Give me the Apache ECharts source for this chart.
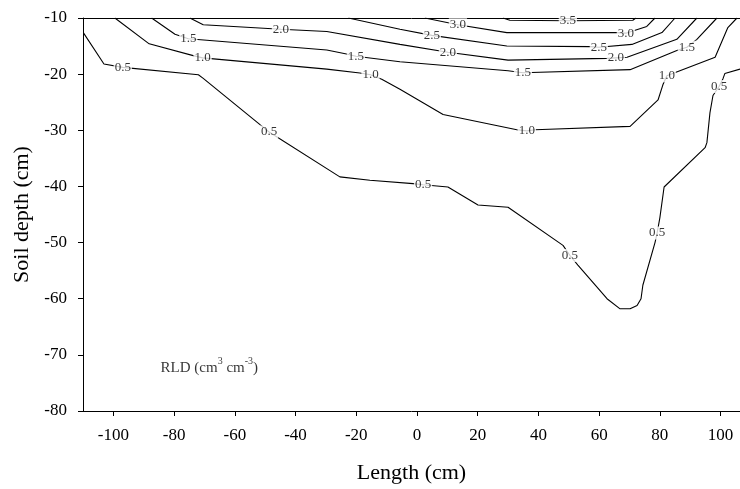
<!DOCTYPE html>
<html><head><meta charset="utf-8">
<script src="https://cdn.jsdelivr.net/npm/echarts@6/dist/echarts.min.js"></script>
<style>html,body{margin:0;padding:0;background:#fff;overflow:hidden}#c{width:740px;height:489px}</style>
</head><body><div id="c"></div>
<script>
// Contour polylines [length (cm), soil depth (cm)] per RLD level
const c05 = [[-109.9,-12.6],[-103.1,-18.2],[-96.9,-18.8],[-72.0,-20.1],[-70.5,-20.7],[-51.7,-29.0],[-48.7,-30.3],[-25.4,-38.3],[-15.5,-38.9],[-1.3,-39.5],[2.0,-39.7],[10.2,-40.1],[20.1,-43.3],[30.0,-43.7],[48.1,-50.5],[50.4,-52.3],[53.0,-54.0],[62.6,-60.0],[66.9,-61.8],[70.2,-61.8],[72.5,-61.2],[73.8,-60.0],[74.4,-57.6],[78.4,-50.0],[79.1,-48.3],[80.0,-45.6],[81.4,-40.1],[94.9,-33.1],[95.5,-32.2],[96.5,-26.9],[97.5,-23.8],[99.5,-22.2],[100.8,-20.8],[101.4,-19.9],[106.4,-19.1]];
const c10 = [[-99.5,-10],[-88.2,-14.6],[-73.7,-16.7],[-70.6,-17.1],[-29.7,-19.1],[-18.8,-19.8],[-15.3,-20.1],[-11.6,-20.9],[-5.6,-22.7],[8.6,-27.2],[32.9,-29.9],[36.2,-30.1],[38.9,-29.9],[70.2,-29.3],[79.4,-24.6],[81.0,-21.9],[82.3,-20.3],[98.2,-17.0],[102.4,-11.7],[105.4,-10]];
const c15 = [[-87.4,-10],[-79.7,-12.9],[-75.3,-13.7],[-29.7,-15.7],[-23.2,-16.4],[-20.1,-16.8],[-5.6,-17.8],[30.0,-19.4],[34.9,-19.75],[70.2,-19.2],[85.6,-15.8],[88.9,-15.2],[92.2,-13.8],[98.8,-10]];
const c20 = [[-74.8,-10],[-70.4,-11.2],[-44.8,-12.0],[-29.7,-12.4],[-5.6,-14.7],[10.2,-16.1],[30.0,-17.5],[62.6,-17.2],[65.5,-17.1],[69.2,-17.0],[85.6,-13.8],[92.2,-10]];
const c25 = [[-22.6,-10],[-5.6,-12.0],[4.9,-13.1],[29.6,-15.0],[57.0,-15.1],[59.9,-15.2],[70.8,-14.7],[80.7,-12.6],[85.0,-10]];
const c30 = [[2.6,-10],[13.5,-11.2],[29.6,-12.6],[65.9,-12.6],[68.8,-12.7],[75.7,-11.5],[78.4,-10]];
const c35 = [[28.3,-10],[30.6,-10.4],[49.7,-10.5],[71.1,-10.4],[72.1,-10]];
const contours = [c05, c10, c15, c20, c25, c30, c35];

// Contour labels [x, y, text]
const contourLabels = [
  [-96.9,-18.8,'0.5'],[-48.7,-30.3,'0.5'],[2.0,-39.7,'0.5'],[50.4,-52.3,'0.5'],[79.1,-48.3,'0.5'],[99.5,-22.2,'0.5'],
  [-70.6,-17.1,'1.0'],[-15.3,-20.1,'1.0'],[36.2,-30.1,'1.0'],[82.3,-20.3,'1.0'],
  [-75.3,-13.7,'1.5'],[-20.1,-16.8,'1.5'],[34.9,-19.75,'1.5'],[88.9,-15.2,'1.5'],
  [-44.8,-12.0,'2.0'],[10.2,-16.1,'2.0'],[65.5,-17.1,'2.0'],
  [4.9,-13.1,'2.5'],[59.9,-15.2,'2.5'],
  [13.5,-11.2,'3.0'],[68.8,-12.7,'3.0'],
  [49.7,-10.5,'3.5']
];
const noteAt = [[-68.4,-72.0]];
const xTicks = [-100,-80,-60,-40,-20,0,20,40,60,80,100];
const yTicks = [-80,-70,-60,-50,-40,-30,-20,-10];

const FONT = 'Liberation Serif';
const chart = echarts.init(document.getElementById('c'), null, {renderer:'canvas'});
const series = contours.map(d => ({
  type:'line', data:d, showSymbol:false, symbol:'none', silent:true, z:2,
  lineStyle:{color:'#000', width:1.1}, animation:false
}));
series.push({
  type:'scatter', data:contourLabels, symbolSize:0, z:5, silent:true, animation:false,
  label:{show:true, position:'inside', formatter:p=>p.data[2], color:'#000', fontFamily:FONT, fontSize:13,
    backgroundColor:'#fff', padding:[0,1]}
});
series.push({
  type:'scatter', data:noteAt, symbolSize:0, z:5, silent:true, animation:false,
  label:{show:true, position:'inside',
    formatter:'{a|RLD (cm}{s|3}{a| cm}{s|-3}{a|)}',
    rich:{
      a:{fontFamily:FONT, fontSize:15, color:'#000', verticalAlign:'bottom', lineHeight:19},
      s:{fontFamily:FONT, fontSize:10, color:'#000', verticalAlign:'top', lineHeight:19}
    }}
});
chart.setOption({
  animation:false,
  backgroundColor:'#fff',
  grid:{left:83, top:18, right:0, bottom:71, containLabel:false},
  xAxis:[{
    type:'value', min:-110, max:106.4, position:'bottom',
    axisLine:{show:true, onZero:false, lineStyle:{color:'#000', width:1}},
    axisTick:{show:true, customValues:xTicks, length:5, lineStyle:{color:'#000'}},
    axisLabel:{customValues:xTicks, color:'#000', fontFamily:FONT, fontSize:17, margin:16},
    splitLine:{show:false},
    name:'Length (cm)', nameLocation:'middle', nameGap:51,
    nameTextStyle:{color:'#000', fontFamily:FONT, fontSize:22}
  },{
    type:'value', min:-110, max:106.4, position:'top',
    axisLine:{show:true, onZero:false, lineStyle:{color:'#000', width:1}},
    axisTick:{show:false}, axisLabel:{show:false}, splitLine:{show:false}
  }],
  yAxis:{
    type:'value', min:-80, max:-10, interval:10,
    axisLine:{show:true, onZero:false, lineStyle:{color:'#000', width:1}},
    axisTick:{show:true, length:5, lineStyle:{color:'#000'}},
    axisLabel:{color:'#000', fontFamily:FONT, fontSize:17, margin:16},
    splitLine:{show:false},
    name:'Soil depth (cm)', nameLocation:'middle', nameGap:49,
    nameTextStyle:{color:'#000', fontFamily:FONT, fontSize:22}
  },
  series:series
});
</script></body></html>
